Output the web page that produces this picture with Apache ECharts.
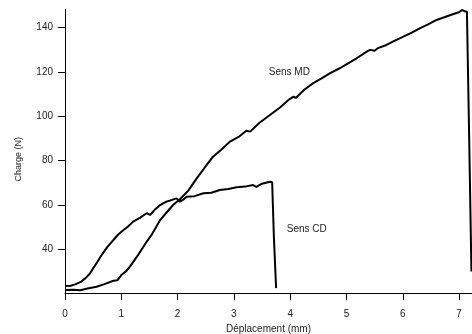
<!DOCTYPE html>
<html>
<head>
<meta charset="utf-8">
<script src="https://cdn.jsdelivr.net/npm/echarts@6/dist/echarts.min.js"></script>
<style>html,body{margin:0;padding:0;background:#fff}#c{width:472px;height:334px}</style>
</head>
<body>
<div id="c"></div>
<script>
const xTicks = [0, 1, 2, 3, 4, 5, 6, 7];
const yTicks = [40, 60, 80, 100, 120, 140];

const cdX = [0, 0.1, 0.18, 0.28, 0.36, 0.44, 0.5, 0.58, 0.65, 0.75, 0.86, 0.95, 1.04, 1.12, 1.21, 1.33, 1.45, 1.48, 1.51, 1.6, 1.69, 1.8, 1.9, 1.98, 2.04, 2.1, 2.16, 2.3, 2.46, 2.6, 2.75, 2.9, 3.05, 3.2, 3.34, 3.4, 3.5, 3.64, 3.68, 3.71, 3.75];
const cdY = [23.5, 23.6, 24.2, 25.3, 26.9, 29, 31.4, 34.5, 37.4, 41, 44.2, 46.8, 48.7, 50.3, 52.5, 54.2, 56.3, 57.0, 55.5, 58, 60, 61.5, 62.3, 63, 61.5, 62.4, 63.7, 64, 65.3, 65.5, 66.8, 67.2, 68, 68.3, 69, 68.2, 69.6, 70.5, 70.3, 46, 22.5];

const mdX = [0, 0.15, 0.27, 0.4, 0.56, 0.7, 0.86, 0.93, 1.0, 1.08, 1.15, 1.3, 1.45, 1.55, 1.69, 1.8, 1.92, 2.05, 2.19, 2.34, 2.5, 2.63, 2.8, 2.93, 3.1, 3.22, 3.29, 3.45, 3.64, 3.82, 3.97, 4.06, 4.1, 4.25, 4.41, 4.55, 4.71, 4.88, 5.0, 5.18, 5.36, 5.42, 5.5, 5.56, 5.71, 5.86, 6.01, 6.16, 6.31, 6.45, 6.6, 6.75, 6.9, 7.0, 7.05, 7.1, 7.14, 7.18, 7.22];
const mdY = [21.6, 21.8, 21.5, 22.3, 23.1, 24.3, 25.8, 26, 28.4, 30, 32.1, 37.5, 43.4, 47, 53.2, 56.5, 60, 62.8, 66.5, 72, 77.5, 81.8, 85.5, 88.6, 91, 93.5, 93.1, 97, 100.6, 104, 107.4, 108.9, 108.3, 112, 115, 117, 119.5, 121.7, 123.5, 126.2, 129.2, 130, 129.6, 130.8, 132.2, 134.2, 136, 137.8, 139.8, 141.5, 143.5, 144.8, 146.2, 147, 148, 147.4, 147.2, 90, 30];

const labelMD = { text: 'Sens MD', x: 3.62, y: 120 };
const labelCD = { text: 'Sens CD', x: 3.94, y: 49 };

const zip = (xs, ys) => xs.map((x, i) => [x, ys[i]]);
const font = 'Liberation Sans, Arial, sans-serif';
const fs = 10;

const chart = echarts.init(document.getElementById('c'), null, { renderer: 'canvas' });
chart.setOption({
  animation: false,
  grid: { left: 65, right: 0, top: 9.3, bottom: 41, containLabel: false, outerBoundsMode: 'none' },
  xAxis: {
    type: 'value', min: 0, max: 7.23,
    name: 'Déplacement (mm)', nameLocation: 'middle', nameGap: 25,
    nameTextStyle: { fontFamily: font, fontSize: fs, color: '#222' },
    axisLine: { show: true, lineStyle: { color: '#000', width: 1 } },
    axisTick: { show: true, length: 7, inside: false, customValues: xTicks, lineStyle: { color: '#000', width: 1 } },
    axisLabel: { customValues: xTicks, margin: 16, fontFamily: font, fontSize: fs, color: '#222' },
    splitLine: { show: false }
  },
  yAxis: {
    type: 'value', min: 20.3, max: 148.3,
    name: 'Charge (N)', nameLocation: 'middle', nameGap: 42,
    nameTextStyle: { fontFamily: font, fontSize: fs - 1, color: '#222', padding: [0, 0, 0, -16] },
    axisLine: { show: true, lineStyle: { color: '#000', width: 1 } },
    axisTick: { show: true, length: 7, inside: false, customValues: yTicks, lineStyle: { color: '#000', width: 1 } },
    axisLabel: { customValues: yTicks, margin: 12, fontFamily: font, fontSize: fs, color: '#222' },
    splitLine: { show: false }
  },
  series: [
    {
      name: 'Sens CD', type: 'line', data: zip(cdX, cdY), showSymbol: false, symbol: 'none',
      lineStyle: { color: '#000', width: 2 }, clip: false,
      markPoint: {
        symbol: 'circle', symbolSize: 0,
        label: { show: true, position: 'right', distance: 0, formatter: labelCD.text, fontFamily: font, fontSize: fs, color: '#222' },
        data: [{ coord: [labelCD.x, labelCD.y] }]
      }
    },
    {
      name: 'Sens MD', type: 'line', data: zip(mdX, mdY), showSymbol: false, symbol: 'none',
      lineStyle: { color: '#000', width: 2 }, clip: false,
      markPoint: {
        symbol: 'circle', symbolSize: 0,
        label: { show: true, position: 'right', distance: 0, formatter: labelMD.text, fontFamily: font, fontSize: fs, color: '#222' },
        data: [{ coord: [labelMD.x, labelMD.y] }]
      }
    }
  ]
});
</script>
</body>
</html>
